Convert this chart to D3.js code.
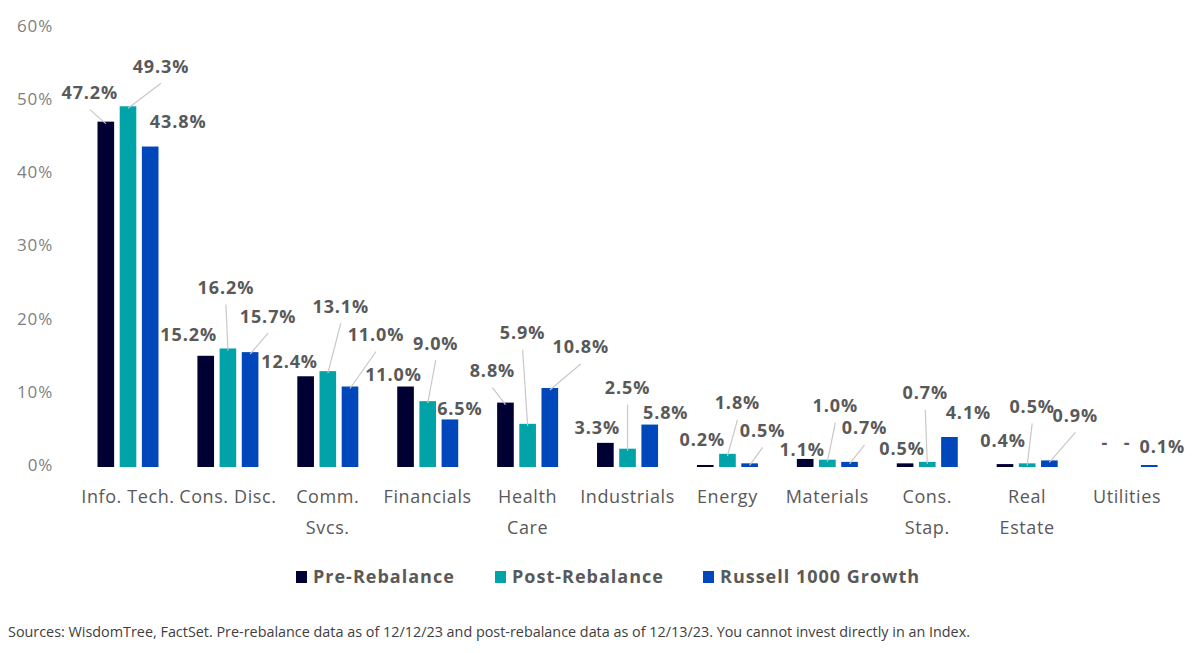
<!DOCTYPE html>
<html>
<head>
<meta charset="utf-8">
<script src="https://cdn.jsdelivr.net/npm/d3@7"></script>
<style>
  body { margin: 0; background: #fff; }
  svg { display: block; font-family: "Open Sans", sans-serif; }
</style>
</head>
<body>
<svg id="chart" width="1200" height="653"></svg>
<script>
var categories = [
  ['Info. Tech.'], ['Cons. Disc.'], ['Comm.', 'Svcs.'], ['Financials'], ['Health', 'Care'],
  ['Industrials'], ['Energy'], ['Materials'], ['Cons.', 'Stap.'], ['Real', 'Estate'], ['Utilities']
];
var seriesNames = ['Pre-Rebalance', 'Post-Rebalance', 'Russell 1000 Growth'];
var seriesColors = ['#000033', '#00a3a8', '#0047bb'];

var preRebalance  = [47.2, 15.2, 12.4, 11.0, 8.8, 3.3, 0.2, 1.1, 0.5, 0.4, 0];
var postRebalance = [49.3, 16.2, 13.1, 9.0, 5.9, 2.5, 1.8, 1.0, 0.7, 0.5, 0];
var russell1000G  = [43.8, 15.7, 11.0, 6.5, 10.8, 5.8, 0.5, 0.7, 4.1, 0.9, 0.1];
var yTicks = [0, 10, 20, 30, 40, 50, 60];

// label nudges from the bar top: [dx, dy, leader line?]
var preNudge  = [[-16,-29,1],[-17,-21,0],[-16,-15,0],[-12,-12,0],[-13,-32,1],[-8,-15,0],[-3,-26,0],[-3,-9,0],[-3,-15,0],[-2,-24,0],[0,-24,0]];
var postNudge = [[33,-40,1],[-2,-61,1],[13,-65,1],[8,-58,1],[-5,-91,1],[0,-61,1],[10,-51,1],[8,-54,1],[-2,-69,1],[5,-57,1],[0,-24,0]];
var russNudge = [[28,-25,0],[18,-36,1],[26,-52,1],[10,-11,0],[31,-41,1],[16,-12,0],[13,-33,1],[15,-34,1],[19,-24,0],[26,-45,1],[13,-20,0]];

var svg = d3.select('#chart');

var x0 = d3.scaleBand()
    .domain(d3.range(categories.length))
    .range([78, 1177])
    .padding(0);

var x1 = d3.scaleBand()
    .domain(d3.range(seriesNames.length))
    .range([19.5, 80.5])
    .paddingInner(0.25);

var y = d3.scaleLinear()
    .domain([0, 60])
    .range([467, 28]);

// y axis, labels only
var yAxis = svg.append('g')
    .attr('transform', 'translate(56,-2)')
    .call(d3.axisLeft(y).tickValues(yTicks).tickFormat(function(d){ return d + '%'; }).tickSize(0).tickPadding(3));
yAxis.select('.domain').remove();
yAxis.selectAll('text')
    .attr('fill', '#7f7f7f')
    .style('font-size', '17px')
    .style('letter-spacing', '0.8px')
    .style('font-family', '"Open Sans", sans-serif');

// category labels
svg.append('g').selectAll('text')
    .data(categories)
  .enter().append('text')
    .attr('x', function(d, i){ return x0(i) + x0.bandwidth() / 2; })
    .attr('y', 503)
    .attr('text-anchor', 'middle')
    .attr('fill', '#595959')
    .style('font-size', '18px')
    .style('letter-spacing', '0.6px')
    .each(function(d){
      var t = d3.select(this);
      d.forEach(function(line, j){
        t.append('tspan')
            .attr('x', t.attr('x'))
            .attr('dy', j === 0 ? 0 : 31)
            .text(line);
      });
    });

var seriesValues = [preRebalance, postRebalance, russell1000G];
var nudges = [preNudge, postNudge, russNudge];

var rows = [];
seriesValues.forEach(function(vals, s){
  vals.forEach(function(v, i){
    rows.push({s: s, i: i, v: v, n: nudges[s][i]});
  });
});

function barX(d){ return x0(d.i) + x1(d.s); }
function barCx(d){ return barX(d) + x1.bandwidth() / 2; }

// bars
svg.append('g').selectAll('rect')
    .data(rows.filter(function(d){ return d.v > 0; }))
  .enter().append('rect')
    .attr('x', barX)
    .attr('y', function(d){ return Math.min(y(d.v), y(0) - 2); })
    .attr('width', x1.bandwidth())
    .attr('height', function(d){ return Math.max(y(0) - y(d.v), 2); })
    .attr('fill', function(d){ return seriesColors[d.s]; });

// leader lines
svg.append('g').selectAll('line')
    .data(rows.filter(function(d){ return d.n[2]; }))
  .enter().append('line')
    .attr('x1', barCx)
    .attr('y1', function(d){ return y(d.v) + 2; })
    .attr('x2', function(d){ return barCx(d) + d.n[0]; })
    .attr('y2', function(d){ return y(d.v) + d.n[1] + 17; })
    .attr('stroke', '#c8c8c8')
    .attr('stroke-width', 1.2);

// data labels
svg.append('g').selectAll('text')
    .data(rows)
  .enter().append('text')
    .attr('x', function(d){ return barCx(d) + d.n[0]; })
    .attr('y', function(d){ return y(d.v) + d.n[1]; })
    .attr('dy', '0.36em')
    .attr('text-anchor', 'middle')
    .attr('fill', '#595959')
    .style('font-size', '18px')
    .style('font-weight', 700)
    .style('letter-spacing', '0.9px')
    .text(function(d){ return d.v === 0 ? '-' : d.v.toFixed(1) + '%'; });

// legend
var legendX = [296, 495, 703];
var legend = svg.append('g').selectAll('g')
    .data(seriesNames)
  .enter().append('g')
    .attr('transform', function(d, i){ return 'translate(' + legendX[i] + ',571)'; });
legend.append('rect')
    .attr('width', 11)
    .attr('height', 12)
    .attr('fill', function(d, i){ return seriesColors[i]; });
legend.append('text')
    .attr('x', 17)
    .attr('y', 12)
    .attr('fill', '#595959')
    .style('font-size', '18px')
    .style('font-weight', 700)
    .style('letter-spacing', '1px')
    .text(function(d){ return d; });

// source note
svg.append('text')
    .attr('x', 8)
    .attr('y', 637)
    .attr('fill', '#404040')
    .style('font-size', '14px')
    .attr('textLength', 962)
    .attr('lengthAdjust', 'spacingAndGlyphs')
    .text('Sources: WisdomTree, FactSet. Pre-rebalance data as of 12/12/23 and post-rebalance data as of 12/13/23. You cannot invest directly in an Index.');
</script>
</body>
</html>
